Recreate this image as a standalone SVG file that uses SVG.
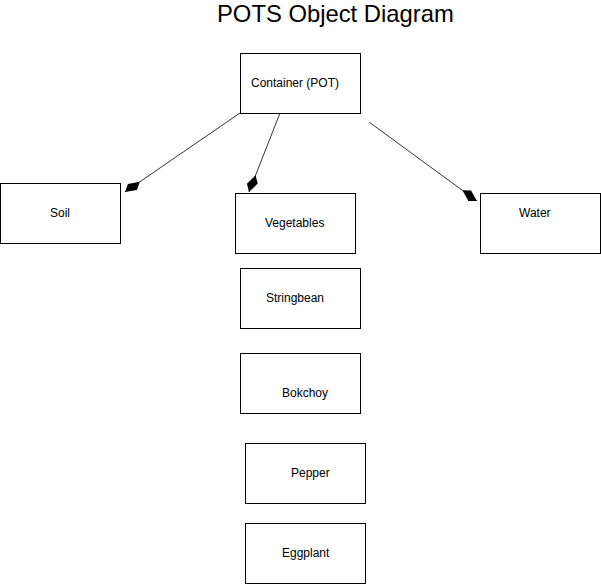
<svg xmlns="http://www.w3.org/2000/svg" width="601" height="585" viewBox="0 0 601 585">
<style>
.box{fill:#fff;stroke:#000;stroke-width:1}
.lbl{font-family:"Liberation Sans",Arial,sans-serif;font-size:12px;fill:#000}
.title{font-family:"Liberation Sans",Arial,sans-serif;font-size:23.8px;fill:#000}
.conn{stroke:#000;stroke-width:0.8;fill:none}
</style>
<defs>
<marker id="diamond" markerUnits="userSpaceOnUse" markerWidth="20" markerHeight="14" refX="18" refY="7" orient="auto" viewBox="0 0 20 14">
<path d="M0,7 L7,2 L18,7 L11,12 z" fill="#000"/>
</marker>
</defs>
<rect width="601" height="585" fill="#fff"/>
<text class="title" x="217" y="21.5">POTS Object Diagram</text>
<g id="connectors">
<line class="conn" x1="240" y1="113" x2="125" y2="192" marker-end="url(#diamond)"/>
<line class="conn" x1="280" y1="113" x2="249" y2="192" marker-end="url(#diamond)"/>
<line class="conn" x1="369" y1="122" x2="477" y2="201" marker-end="url(#diamond)"/>
</g>
<g id="container"><rect class="box" x="240.5" y="53.5" width="120" height="60"/><text class="lbl" x="251" y="87">Container (POT)</text></g>
<g id="soil"><rect class="box" x="0.5" y="183.5" width="120" height="60"/><text class="lbl" x="50" y="217">Soil</text></g>
<g id="vegetables"><rect class="box" x="235.5" y="193.5" width="120" height="60"/><text class="lbl" x="265" y="227">Vegetables</text></g>
<g id="water"><rect class="box" x="480.5" y="193.5" width="120" height="60"/><text class="lbl" x="519" y="217">Water</text></g>
<g id="stringbean"><rect class="box" x="240.5" y="268.5" width="120" height="60"/><text class="lbl" x="266" y="302">Stringbean</text></g>
<g id="bokchoy"><rect class="box" x="240.5" y="353.5" width="120" height="60"/><text class="lbl" x="282" y="397">Bokchoy</text></g>
<g id="pepper"><rect class="box" x="245.5" y="443.5" width="120" height="60"/><text class="lbl" x="291" y="477">Pepper</text></g>
<g id="eggplant"><rect class="box" x="245.5" y="523.5" width="120" height="60"/><text class="lbl" x="282" y="557">Eggplant</text></g>
</svg>
